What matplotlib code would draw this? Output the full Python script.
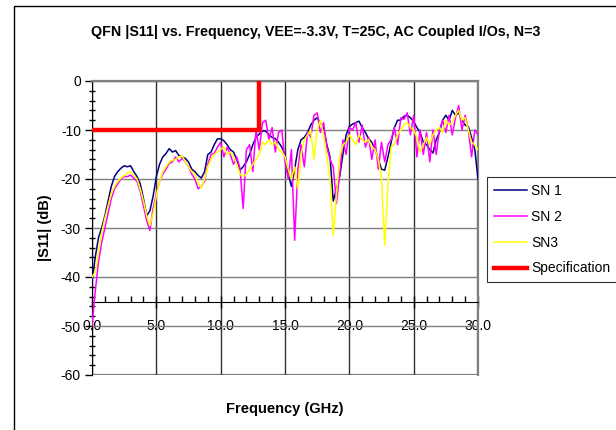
"""
QFN |S11| vs frequency, three samples against the -10 dB spec mask.
"""
import numpy as np
import matplotlib
matplotlib.use("Agg")
import matplotlib.pyplot as plt
from matplotlib.patches import Rectangle
from matplotlib.ticker import MultipleLocator, FormatStrFormatter

# sweep grid, 0.25 GHz steps from 0 to 30 GHz
freq_ghz = np.arange(121) * 0.25

sn1_db = [
    -41, -36, -32, -30, -27.5, -24.5, -21.5, -19.5,
    -18.5, -17.8, -17.3, -17.5, -17.3, -18.5, -19.5, -21,
    -24, -27.5, -26.5, -23.5, -19.5, -17, -15.5, -14.8,
    -13.8, -14.5, -14.2, -15.2, -15.5, -15.8, -16.5, -18,
    -18.5, -19.3, -19.8, -18.5, -15, -14.5, -13, -11.8,
    -11.8, -12.2, -13, -14, -14.5, -16, -18.2, -17.5,
    -16.5, -15, -13, -11.5, -10.8, -10.2, -10.2, -11,
    -11.5, -11.8, -12.5, -13.5, -15, -19, -21.5, -18,
    -14, -12, -11.5, -10.5, -9, -8, -7.5, -8.5,
    -9.5, -13, -15.5, -24.5, -22, -19.5, -15, -11,
    -9.3, -8.8, -8.5, -8.2, -9.5, -10.5, -11.8, -12.5,
    -14, -16, -18, -18.2, -15.5, -12.5, -9.5, -8,
    -8, -7.2, -7, -7.5, -8.3, -9.5, -10.5, -12.5,
    -13, -14, -14.7, -12, -10.5, -8, -7, -8,
    -6, -7, -6.5, -8, -9, -9.3, -11.5, -14,
    -20,
]
sn2_db = [
    -50, -43, -37, -33, -30, -27, -24, -22,
    -21, -20, -19.5, -19.5, -19.2, -19.8, -20.5, -22.5,
    -25.5, -28.5, -30.5, -26, -23, -20.5, -19, -18,
    -16.8, -16.5, -15.5, -16.5, -15.8, -16.5, -17.5, -19,
    -20, -22, -21.5, -20.5, -17, -15, -14.8, -13.5,
    -12.5, -15.5, -13.5, -15, -17, -15.5, -17.8, -26,
    -14, -13, -18.5, -10, -14, -8.5, -8, -12,
    -9.5, -14.5, -10.5, -10, -16.5, -20, -14, -32.5,
    -18, -13, -17.5, -10.5, -11.5, -7, -6.5, -10.5,
    -8.5, -13.5, -16, -17.5, -25, -19, -12, -15,
    -9.5, -10, -8.5, -12.5, -9, -13.5, -11.5, -16,
    -12, -18, -12.5, -16.5, -13, -12, -9.5, -13,
    -7.5, -7.8, -6.5, -11, -7, -15.5, -10, -15,
    -10.5, -16.5, -10, -15, -10, -8, -10.5, -7,
    -11, -7.5, -5, -10, -7, -10, -15.5, -10,
    -11,
]
sn3_db = [
    -40, -39, -35, -31, -28, -25.5, -23, -21.5,
    -20.5, -19.8, -19.3, -18.8, -18.5, -19.3, -20, -22,
    -24.5, -27.5, -29.5, -27, -23.5, -20.5, -18.5, -17.5,
    -16.5, -16.2, -16, -15.5, -15.3, -16.5, -17.5, -18.5,
    -19, -21, -21.8, -20, -17.5, -16, -15, -14.5,
    -14, -13.5, -15, -14.5, -15.5, -17, -19, -19.5,
    -19, -18, -17, -16, -15, -12.5, -13, -12,
    -13, -12.5, -14, -14.5, -15.5, -18, -20, -17.5,
    -22, -15, -12, -11, -10, -16, -10, -8,
    -11, -15.5, -20, -31.5, -23, -15.5, -13, -12.5,
    -11, -12, -13, -11, -12, -12.5, -12, -13.5,
    -14, -16, -20, -33.5, -21, -13.5, -13, -11,
    -10, -9, -8.5, -9.5, -10, -11.5, -14.5, -13,
    -11.5, -13, -11, -10, -9.5, -10.5, -8, -9,
    -8.5, -7, -6, -8, -7.5, -10, -12.5, -13,
    -14,
]

spec_freq = [0.0, 13.0, 13.0]
spec_db = [-10.0, -10.0, 0.0]

series = [
    ("SN 1", sn1_db, "#000080"),
    ("SN 2", sn2_db, "#FF00FF"),
    ("SN3", sn3_db, "#FFFF00"),
]

plt.rcParams["font.family"] = ["Liberation Sans", "DejaVu Sans"]
plt.rcParams["axes.unicode_minus"] = False

W, H = 616, 430
fig = plt.figure(figsize=(W / 100, H / 100), dpi=100)

# outer chart frame (runs off the right and bottom edges)
fig.patches.append(Rectangle((14 / W, -0.2), 1.2, 1.2 - 6 / H,
                             transform=fig.transFigure, fill=False,
                             edgecolor="black", lw=1.0))

ax = fig.add_axes([92 / W, 1 - 375 / H, 386 / W, 294 / H])

for label, vals, color in series:
    ax.plot(freq_ghz, vals, color=color, lw=1.1, label=label, zorder=3)
ax.plot(spec_freq, spec_db, color="#FF0000", lw=3.2, label="Specification",
        zorder=4, solid_joinstyle="miter")

ax.set_xlim(0, 30)
ax.set_ylim(-60, 0)

ax.xaxis.set_major_locator(MultipleLocator(5))
ax.xaxis.set_minor_locator(MultipleLocator(1))
ax.xaxis.set_major_formatter(FormatStrFormatter("%.1f"))
ax.yaxis.set_major_locator(MultipleLocator(10))
ax.yaxis.set_minor_locator(MultipleLocator(2))

ax.grid(which="major", axis="y", color="#808080", lw=1.0, zorder=1)
ax.grid(which="major", axis="x", color="#303030", lw=1.0, zorder=1)

# Excel-style: category axis crosses at -45 dB
for side in ("top", "right"):
    ax.spines[side].set_color("#808080")
    ax.spines[side].set_linewidth(1.6)
ax.spines["bottom"].set_position(("data", -45))
ax.spines["bottom"].set_color("black")
ax.spines["left"].set_color("black")
ax.add_patch(Rectangle((0, 0), 1, 1, transform=ax.transAxes, fill=False,
                       edgecolor="#808080", lw=1.6, zorder=0.5))

ax.tick_params(axis="x", which="major", direction="inout", length=9,
               width=1.0, labelsize=10, pad=8)
ax.tick_params(axis="x", which="minor", direction="in", length=4, width=1.0)
ax.tick_params(axis="y", which="major", direction="out", length=5,
               width=1.0, labelsize=10, pad=3)
ax.tick_params(axis="y", which="minor", direction="inout", length=4,
               width=1.0)

ax.set_xlabel("Frequency (GHz)", fontsize=10.5, fontweight="bold")
ax.xaxis.set_label_coords(0.5, 1 - (402 - 81) / 294)
ax.set_ylabel("|S11| (dB)", fontsize=10.5, fontweight="bold")
ax.yaxis.set_label_coords((52 - 92) / 386, 0.5)

fig.text(316 / W, 1 - 32 / H,
         "QFN |S11| vs. Frequency, VEE=-3.3V, T=25C, AC Coupled I/Os, N=3",
         ha="center", va="center", fontsize=10.3, fontweight="bold")

leg = ax.legend(loc="upper left", bbox_to_anchor=(487 / W, 1 - 177 / H),
                bbox_transform=fig.transFigure, fontsize=10, frameon=True,
                fancybox=False, borderaxespad=0, handlelength=2.4,
                handletextpad=0.3, labelspacing=0.85, borderpad=0.5)
leg.get_frame().set_edgecolor("black")
leg.get_frame().set_linewidth(0.8)

fig.savefig("out.png", dpi=100)
plt.close(fig)
